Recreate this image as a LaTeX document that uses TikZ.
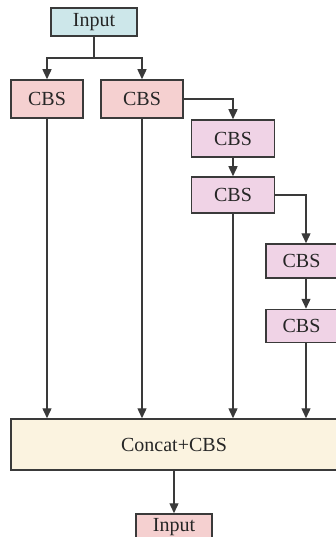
\documentclass[tikz,border=0pt]{standalone}
\usepackage{fontspec}
\setmainfont{Liberation Serif}
\usetikzlibrary{arrows.meta}
\definecolor{lc}{HTML}{3A3A3A}
\definecolor{cyanf}{HTML}{CDE7EA}
\definecolor{redf}{HTML}{F5D0D0}
\definecolor{pinkf}{HTML}{F0D3E6}
\definecolor{creamf}{HTML}{FBF3E0}
\begin{document}
\begin{tikzpicture}[x=1pt,y=1pt,
  box/.style={draw=lc,line width=1.5pt,rectangle,inner sep=0pt,text=black!85,
    font=\fontsize{20}{22}\selectfont},
  arr/.style={draw=lc,line width=1.4pt,-{Triangle[length=10pt,width=9pt]}},
  ln/.style={draw=lc,line width=1.4pt}]
\useasboundingbox (0,0) rectangle (335,-537);
\node[box,fill=cyanf,minimum width=86pt,minimum height=28pt] (in1) at (94,-22) {Input};
\node[box,fill=redf,minimum width=72pt,minimum height=38pt] (c1) at (47,-99) {CBS};
\node[box,fill=redf,minimum width=82pt,minimum height=38pt] (c2) at (142,-99) {CBS};
\node[box,fill=pinkf,minimum width=83pt,minimum height=37pt] (c3) at (233,-138.5) {CBS};
\node[box,fill=pinkf,minimum width=83pt,minimum height=36pt] (c4) at (233,-195) {CBS};
\node[box,fill=pinkf,minimum width=71pt,minimum height=34pt] (c5) at (301.5,-261) {CBS};
\node[box,fill=pinkf,minimum width=71pt,minimum height=33pt] (c6) at (301.5,-326) {CBS};
\node[box,fill=creamf,minimum width=326pt,minimum height=51pt] (cc) at (174,-444.5) {Concat+CBS};
\node[box,fill=redf,minimum width=76pt,minimum height=26pt] (in2) at (174,-527) {Input};
\coordinate (sp) at (94,-58);
\coordinate (col4) at (306,0);
\draw[ln] (in1.south) -- (sp);
\draw[arr] (sp) -| (c1.north);
\draw[arr] (sp) -| (c2.north);
\draw[arr] (c2.east) -| (c3.north);
\draw[arr] (c3.south) -- (c4.north);
\draw[arr] (c4.east) -| (c5.north -| col4);
\draw[arr] (c5.south -| col4) -- (c6.north -| col4);
\draw[arr] (c1.south) -- (cc.north -| c1.south);
\draw[arr] (c2.south) -- (cc.north -| c2.south);
\draw[arr] (c4.south) -- (cc.north -| c4.south);
\draw[arr] (c6.south -| col4) -- (cc.north -| col4);
\draw[arr] (cc.south) -- (in2.north);
\end{tikzpicture}
\end{document}
